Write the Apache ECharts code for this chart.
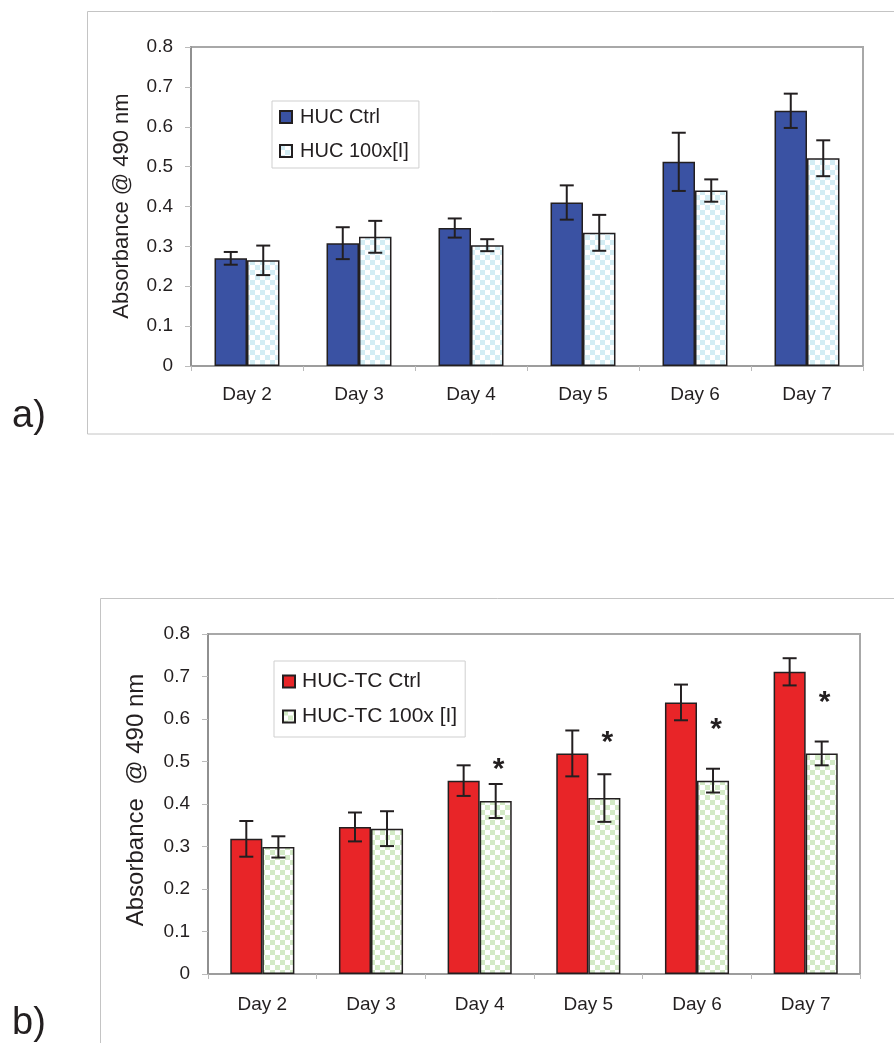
<!DOCTYPE html>
<html>
<head>
<meta charset="utf-8">
<script src="https://cdn.jsdelivr.net/npm/echarts@6/dist/echarts.min.js"></script>
<style>
  html, body { margin: 0; padding: 0; background: #fff; }
  #chart { width: 894px; height: 1043px; }
</style>
</head>
<body>
<div id="chart"></div>
<script>
// ---- data ----
const categories = ['Day 2', 'Day 3', 'Day 4', 'Day 5', 'Day 6', 'Day 7'];
const yTicks = [0, 0.1, 0.2, 0.3, 0.4, 0.5, 0.6, 0.7, 0.8];

// panel a
const hucCtrl      = [0.270, 0.308, 0.346, 0.410, 0.512, 0.640];
const hucCtrlErr   = [0.016, 0.040, 0.024, 0.043, 0.073, 0.043];
const hucTreat     = [0.265, 0.324, 0.303, 0.334, 0.440, 0.521];
const hucTreatErr  = [0.037, 0.040, 0.015, 0.045, 0.028, 0.045];

// panel b
const tcCtrl       = [0.318, 0.346, 0.455, 0.519, 0.639, 0.711];
const tcCtrlErr    = [0.042, 0.034, 0.036, 0.054, 0.042, 0.032];
const tcTreat      = [0.299, 0.342, 0.407, 0.414, 0.455, 0.519];
const tcTreatErr   = [0.025, 0.041, 0.040, 0.056, 0.028, 0.028];
const starLevel    = [null, null, 0.492, 0.555, 0.586, 0.649];

const names = {
  a1: 'HUC Ctrl', a2: 'HUC 100x[I]',
  b1: 'HUC-TC Ctrl', b2: 'HUC-TC 100x [I]'
};

// ---- styles ----
const FONT = '"Liberation Sans", Arial, Helvetica, sans-serif';
const TXT = '#231f20';
const GAP_A = 0.42, GAP_B = 0.41;

function checker(color) {
  const cv = document.createElement('canvas');
  cv.width = 10; cv.height = 10;
  const ctx = cv.getContext('2d');
  ctx.fillStyle = '#ffffff'; ctx.fillRect(0, 0, 10, 10);
  ctx.fillStyle = color;
  ctx.fillRect(0, 0, 5, 5); ctx.fillRect(5, 5, 5, 5);
  return { image: cv, repeat: 'repeat' };
}
const cyanPat = checker('#d3edf4');
const greenPat = checker('#d3eac6');

function errRender(sign, gap) {
  return function (params, api) {
    const i = api.value(0);
    const lo = api.coord([i, api.value(1)]);
    const hi = api.coord([i, api.value(2)]);
    const cw = api.size([1, 0])[0];
    const bw = cw * (1 - gap) / 2;
    const cx = lo[0] + sign * bw / 2;
    const cap = 7;
    const st = { stroke: '#231f20', lineWidth: 2 };
    return {
      type: 'group',
      children: [
        { type: 'line', shape: { x1: cx, y1: hi[1], x2: cx, y2: lo[1] }, style: st },
        { type: 'line', shape: { x1: cx - cap, y1: hi[1], x2: cx + cap, y2: hi[1] }, style: st },
        { type: 'line', shape: { x1: cx - cap, y1: lo[1], x2: cx + cap, y2: lo[1] }, style: st }
      ]
    };
  };
}

function starRender(gap) {
  return function (params, api) {
    const i = api.value(0);
    const p = api.coord([i, api.value(1)]);
    const cw = api.size([1, 0])[0];
    const bw = cw * (1 - gap) / 2;
    return {
      type: 'text',
      x: p[0] + bw / 2 + 3,
      y: p[1] + 5,
      style: {
        text: '*', fill: '#231f20', font: 'bold 30px ' + FONT,
        textAlign: 'center', textVerticalAlign: 'middle'
      }
    };
  };
}

function errData(vals, errs) {
  return vals.map((v, i) => [i, v - errs[i], v + errs[i]]);
}

function xAxisCfg(gridIndex, margin) {
  return {
    type: 'category', gridIndex: gridIndex, data: categories,
    axisLine: { show: true, lineStyle: { color: '#999', width: 1.5 } },
    axisTick: { show: true, length: 5, lineStyle: { color: '#bbb' } },
    axisLabel: { color: TXT, fontSize: 19, fontFamily: FONT, margin: margin },
    splitLine: { show: false }
  };
}
function yAxisCfg(gridIndex) {
  return {
    type: 'value', gridIndex: gridIndex, min: 0, max: 0.8, interval: 0.1,
    axisLine: { show: true, lineStyle: { color: '#888', width: 1.5 } },
    axisTick: { show: true, length: 6, lineStyle: { color: '#bbb' } },
    axisLabel: {
      color: TXT, fontSize: 19, fontFamily: FONT, margin: 18,
      formatter: v => {
        const t = yTicks.find(k => Math.abs(k - v) < 1e-9);
        return t === undefined ? '' : String(t);
      }
    },
    splitLine: { show: false }
  };
}

const barBorder = { borderColor: '#231f20', borderWidth: 1.5 };

const chart = echarts.init(document.getElementById('chart'), null, { renderer: 'canvas' });
chart.setOption({
  animation: false,
  backgroundColor: '#fff',
  grid: [
    { left: 191, top: 47, width: 672, height: 319, show: true, borderColor: '#a8a8a8', borderWidth: 2, backgroundColor: 'transparent' },
    { left: 208, top: 634, width: 652, height: 340, show: true, borderColor: '#a8a8a8', borderWidth: 2, backgroundColor: 'transparent' }
  ],
  xAxis: [xAxisCfg(0, 19), xAxisCfg(1, 21)],
  yAxis: [yAxisCfg(0), yAxisCfg(1)],
  legend: [
    {
      data: [names.a1, names.a2], orient: 'vertical', left: 272, top: 101,
      padding: [6, 10, 7, 7], itemGap: 14, itemWidth: 12, itemHeight: 12,
      borderColor: '#cfcfcf', borderWidth: 1, backgroundColor: '#fff',
      textStyle: { color: TXT, fontSize: 20, fontFamily: FONT, padding: [0, 0, 0, 3] },
      icon: 'rect', selectedMode: false
    },
    {
      data: [names.b1, names.b2], orient: 'vertical', left: 274, top: 661,
      padding: [10, 8, 10, 8], itemGap: 14, itemWidth: 12, itemHeight: 12,
      borderColor: '#cfcfcf', borderWidth: 1, backgroundColor: '#fff',
      textStyle: { color: TXT, fontSize: 21, fontFamily: FONT, padding: [0, 0, 0, 2] },
      icon: 'rect', selectedMode: false
    }
  ],
  graphic: [
    { type: 'rect', shape: { x: 87.5, y: 11.5, width: 840, height: 422.5 }, style: { fill: 'none', stroke: '#c4c4c4', lineWidth: 1 }, silent: true, z: -1 },
    { type: 'rect', shape: { x: 100.5, y: 598.5, width: 840, height: 500 }, style: { fill: 'none', stroke: '#c4c4c4', lineWidth: 1 }, silent: true, z: -1 },
    { type: 'text', x: 12, y: 417, style: { text: 'a)', font: '38px ' + FONT, fill: TXT, textVerticalAlign: 'middle' } },
    { type: 'text', x: 12, y: 1024, style: { text: 'b)', font: '38px ' + FONT, fill: TXT, textVerticalAlign: 'middle' } },
    { type: 'text', x: 122, y: 206, rotation: Math.PI / 2, style: { text: 'Absorbance @ 490 nm', font: '22px ' + FONT, fill: TXT, textAlign: 'center', textVerticalAlign: 'middle' } },
    { type: 'text', x: 136, y: 800, rotation: Math.PI / 2, style: { text: 'Absorbance  @ 490 nm', font: '24px ' + FONT, fill: TXT, textAlign: 'center', textVerticalAlign: 'middle' } }
  ],
  series: [
    { name: names.a1, type: 'bar', xAxisIndex: 0, yAxisIndex: 0, data: hucCtrl, barGap: '0%', barCategoryGap: (GAP_A * 100) + '%', itemStyle: Object.assign({ color: '#3a52a3' }, barBorder) },
    { name: names.a2, type: 'bar', xAxisIndex: 0, yAxisIndex: 0, data: hucTreat, barGap: '0%', barCategoryGap: (GAP_A * 100) + '%', itemStyle: Object.assign({ color: cyanPat }, barBorder) },
    { type: 'custom', xAxisIndex: 0, yAxisIndex: 0, data: errData(hucCtrl, hucCtrlErr), renderItem: errRender(-1, GAP_A), encode: { x: 0, y: [1, 2] }, z: 5, silent: true },
    { type: 'custom', xAxisIndex: 0, yAxisIndex: 0, data: errData(hucTreat, hucTreatErr), renderItem: errRender(1, GAP_A), encode: { x: 0, y: [1, 2] }, z: 5, silent: true },

    { name: names.b1, type: 'bar', xAxisIndex: 1, yAxisIndex: 1, data: tcCtrl, barGap: '0%', barCategoryGap: (GAP_B * 100) + '%', itemStyle: Object.assign({ color: '#e82528' }, barBorder) },
    { name: names.b2, type: 'bar', xAxisIndex: 1, yAxisIndex: 1, data: tcTreat, barGap: '0%', barCategoryGap: (GAP_B * 100) + '%', itemStyle: Object.assign({ color: greenPat }, barBorder) },
    { type: 'custom', xAxisIndex: 1, yAxisIndex: 1, data: errData(tcCtrl, tcCtrlErr), renderItem: errRender(-1, GAP_B), encode: { x: 0, y: [1, 2] }, z: 5, silent: true },
    { type: 'custom', xAxisIndex: 1, yAxisIndex: 1, data: errData(tcTreat, tcTreatErr), renderItem: errRender(1, GAP_B), encode: { x: 0, y: [1, 2] }, z: 5, silent: true },
    { type: 'custom', xAxisIndex: 1, yAxisIndex: 1,
      data: starLevel.map((v, i) => v === null ? null : [i, v]).filter(d => d !== null),
      renderItem: starRender(GAP_B), encode: { x: 0, y: 1 }, z: 6, silent: true }
  ]
});
</script>
</body>
</html>
